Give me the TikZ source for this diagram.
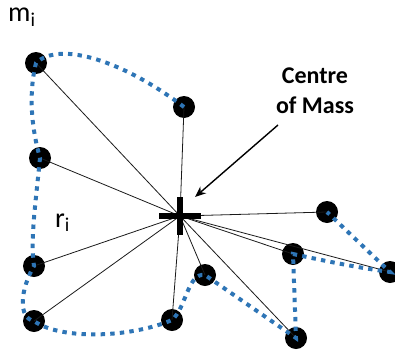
\documentclass[tikz,border=0pt]{standalone}
\usepackage{fontspec}
\setmainfont{Carlito}
\usepackage{xcolor}
\usepackage{tikz}
\usetikzlibrary{positioning, arrows.meta}
\definecolor{bDot}{HTML}{2E75B6}
\definecolor{rInk}{HTML}{1A1A1A}

\begin{document}
\begin{tikzpicture}[x=1pt, y=-1pt, >=Stealth,
    mass/.style={circle, fill=black, minimum size=22pt, inner sep=0pt},
    rline/.style={rInk, line width=0.8pt},
    bound/.style={bDot, line width=4pt, dash pattern=on 4.4pt off 5.2pt},
    lbl/.style={font=\fontsize{28}{32}\selectfont, inner sep=0pt, anchor=base west}]
  \useasboundingbox (0,0) rectangle (395,353);
  % centre of mass and the point masses
  \coordinate (cm) at (180,216);
  \node[mass] (m1) at (36,63) {};
  \node[mass] (m2) at (184,107) {};
  \node[mass] (m3) at (40,158) {};
  \node[mass] (m4) at (34,266) {};
  \node[mass] (m5) at (34,321) {};
  \node[mass] (m6) at (172,320) {};
  \node[mass] (m7) at (205,275) {};
  \node[mass] (m8) at (296,338) {};
  \node[mass] (m9) at (293,254) {};
  \node[mass] (m10) at (390,272) {};
  \node[mass] (m11) at (327,212) {};
  \foreach \i in {1,...,11}
    \draw[rline] (cm) -- (m\i.center);
  \node[fill=black, minimum width=6pt, minimum height=38pt, inner sep=0pt] (cmv) at (cm) {};
  \node[fill=black, minimum width=42pt, minimum height=6pt, inner sep=0pt] (cmh) at (cm) {};
  % outline of the body
  \draw[bound] (m2.center) .. controls (125,62) and (60,40) .. (m1.center)
    .. controls (28,95) and (32,130) .. (m3.center)
    .. controls (36,200) and (30,240) .. (m4.center)
    .. controls (20,290) and (18,318) .. (m5.center)
    .. controls (60,340) and (130,338) .. (m6.center)
    .. controls (186,308) and (188,272) .. (m7.center)
    -- (m8.center) -- (m9.center)
    .. controls (330,262) and (360,268) .. (m10.center) -- (m11.center);
  % labels
  \node[lbl] (mi) at (8,22) {m\textsubscript{i}};
  \node[lbl] (ri) at (55,227) {r\textsubscript{i}};
  \node[font=\fontsize{24}{30}\selectfont\bfseries, align=center, inner sep=0pt] (com) at (315,91) {Centre\\of Mass};
  \coordinate (tail) at (278,125);
  \coordinate (tip) at (195,197);
  \draw[->, line width=1.4pt, arrows={-Stealth[length=11pt, width=9pt]}] (tail) -- (tip);
\end{tikzpicture}
\end{document}
